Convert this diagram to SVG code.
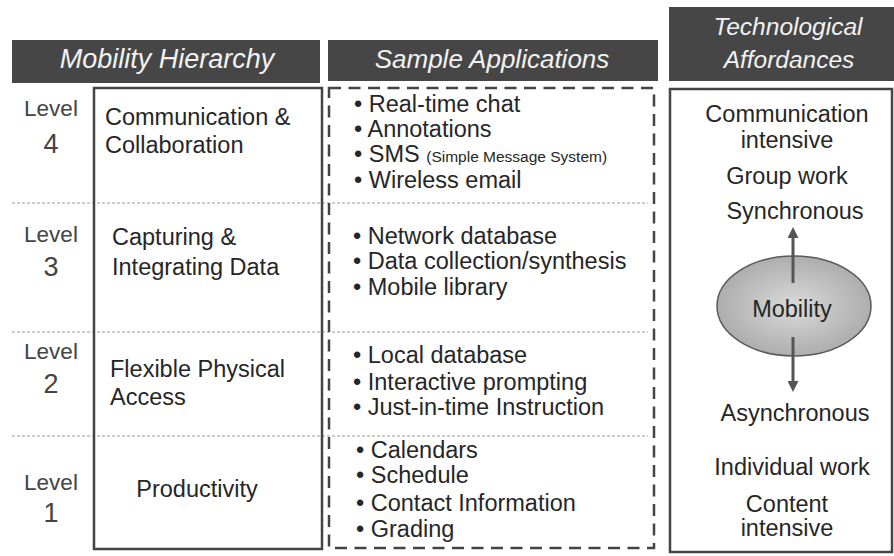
<svg xmlns="http://www.w3.org/2000/svg" width="894" height="556" viewBox="0 0 894 556">
<style>
text{font-family:"Liberation Sans",Arial,sans-serif;fill:#262626}
.hdr{fill:#464646}
.ht{font-style:italic;fill:#f2f2f2;text-anchor:middle}
.lv{font-size:22.5px;fill:#444;text-anchor:middle}
.dg{font-size:27px;fill:#444;text-anchor:middle}
.t{font-size:23.5px}
.c{font-size:23.5px;text-anchor:middle}
.sm{font-size:15.5px}
.sep{stroke:#9a9a9a;stroke-width:1;stroke-dasharray:3 2;fill:none}
</style>
<defs>
<radialGradient id="g" cx="50%" cy="50%" r="55%">
<stop offset="0" stop-color="#dadada"/>
<stop offset="1" stop-color="#a9a9a9"/>
</radialGradient>
<marker id="ah" markerWidth="11" markerHeight="11" refX="5" refY="5.5" orient="auto" markerUnits="userSpaceOnUse" viewBox="0 0 11 11">
<path d="M0,0 L11,5.5 L0,11 z" fill="#555"/>
</marker>
</defs>
<rect width="894" height="556" fill="#fff"/>

<g id="headers">
<rect class="hdr" x="12" y="40" width="308" height="43"/>
<text class="ht" x="167" y="68" font-size="27">Mobility Hierarchy</text>
<rect class="hdr" x="328" y="40" width="330" height="41"/>
<text class="ht" x="492" y="68" font-size="26">Sample Applications</text>
<rect class="hdr" x="669" y="7" width="225" height="74"/>
<text class="ht" x="788" y="35" font-size="24.5">Technological</text>
<text class="ht" x="789" y="68" font-size="24.5">Affordances</text>
</g>

<g id="separators">
<line class="sep" x1="12" y1="203" x2="648" y2="203"/>
<line class="sep" x1="12" y1="332" x2="648" y2="332"/>
<line class="sep" x1="12" y1="436" x2="648" y2="436"/>
</g>

<g id="hierarchy">
<rect x="94" y="88" width="228" height="461" fill="none" stroke="#444" stroke-width="2.5"/>
</g>
<g id="applications">
<rect x="329" y="88" width="325" height="460" fill="none" stroke="#444" stroke-width="2.5" stroke-dasharray="12 7.5"/>
</g>
<g id="affordances">
<rect x="670" y="89" width="222" height="463" fill="none" stroke="#444" stroke-width="2.5"/>
</g>

<g id="level4">
<text class="lv" x="51" y="116">Level</text>
<text class="dg" x="51" y="153">4</text>
<text class="t" x="105" y="125">Communication &amp;</text>
<text class="t" x="105" y="153">Collaboration</text>
<text class="t" x="354" y="112">• Real-time chat</text>
<text class="t" x="354" y="137">• Annotations</text>
<text class="t" x="354" y="162">• SMS <tspan class="sm">(Simple Message System)</tspan></text>
<text class="t" x="354" y="188">• Wireless email</text>
</g>

<g id="level3">
<text class="lv" x="51" y="242">Level</text>
<text class="dg" x="51" y="276">3</text>
<text class="t" x="112" y="245">Capturing &amp;</text>
<text class="t" x="112" y="275">Integrating Data</text>
<text class="t" x="353" y="244">• Network database</text>
<text class="t" x="353" y="269">• Data collection/synthesis</text>
<text class="t" x="353" y="295">• Mobile library</text>
</g>

<g id="level2">
<text class="lv" x="51" y="359">Level</text>
<text class="dg" x="51" y="393">2</text>
<text class="t" x="110" y="377">Flexible Physical</text>
<text class="t" x="110" y="405">Access</text>
<text class="t" x="353" y="363">• Local database</text>
<text class="t" x="353" y="390">• Interactive prompting</text>
<text class="t" x="353" y="415">• Just-in-time Instruction</text>
</g>

<g id="level1">
<text class="lv" x="51" y="490">Level</text>
<text class="dg" x="51" y="522">1</text>
<text class="t" x="197" y="497" text-anchor="middle">Productivity</text>
<text class="t" x="356" y="458">• Calendars</text>
<text class="t" x="356" y="483">• Schedule</text>
<text class="t" x="356" y="511">• Contact Information</text>
<text class="t" x="356" y="537">• Grading</text>
</g>

<g id="affordance-labels">
<text class="c" x="787" y="122">Communication</text>
<text class="c" x="787" y="148">intensive</text>
<text class="c" x="787" y="184">Group work</text>
<text class="c" x="795" y="219">Synchronous</text>
<text class="c" x="795" y="421">Asynchronous</text>
<text class="c" x="792" y="475">Individual work</text>
<text class="c" x="787" y="512">Content</text>
<text class="c" x="787" y="536">intensive</text>
</g>

<g id="mobility">
<ellipse cx="794" cy="306" rx="77" ry="50" fill="url(#g)" stroke="#5a5a5a" stroke-width="1.5"/>
<text class="c" x="792" y="317" fill="#333">Mobility</text>
</g>

<g id="connectors" stroke="#555" stroke-width="3" fill="none">
<line x1="793" y1="283" x2="793" y2="233" marker-end="url(#ah)"/>
<line x1="793" y1="337" x2="793" y2="386" marker-end="url(#ah)"/>
</g>
</svg>
